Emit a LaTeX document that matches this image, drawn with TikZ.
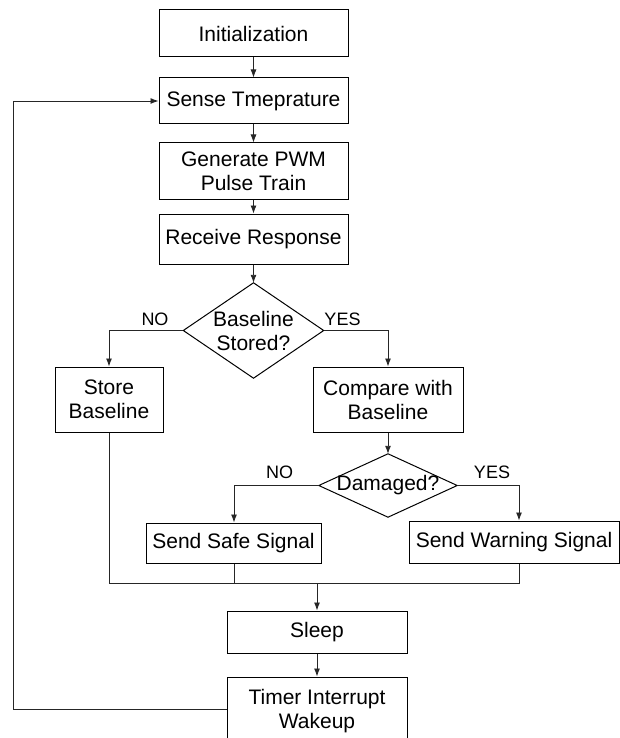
\documentclass[tikz,border=0pt]{standalone}
\usepackage{fontspec}
\setmainfont{Liberation Sans}
\usetikzlibrary{arrows.meta}

\tikzset{
  stepbox/.style={draw=black, line width=1pt, rectangle, inner sep=0pt,
    align=center, font=\fontsize{21}{24}\selectfont},
  % decision: an undrawn frame whose side midpoints are the diamond's corners
  choice/.style={rectangle, inner sep=0pt, align=center,
    font=\fontsize{21}{24}\selectfont},
  rhomb/.style={draw=black, line width=1pt, line join=miter},
  branch/.style={font=\fontsize{18}{20}\selectfont, inner sep=0pt},
  link/.style={draw=black!85, line width=0.9pt},
  flow/.style={link, -{Latex[length=8pt,width=6pt]}}
}

\begin{document}
\begin{tikzpicture}[x=1pt,y=-1pt]
  \useasboundingbox (0,0) rectangle (620,738);
  \clip (0,0) rectangle (620,738);

  % main column
  \node[stepbox, minimum width=189pt, minimum height=47pt] (init)   at (253.5,33.5) {Initialization};
  \node[stepbox, minimum width=189pt, minimum height=46pt] (sense)  at (253.5,101)  {Sense Tmeprature};
  \node[stepbox, minimum width=189pt, minimum height=56pt] (gen)    at (253.5,171)  {Generate PWM\\Pulse Train};
  \node[stepbox, minimum width=189pt, minimum height=50pt] (recv)   at (253.5,239)  {Receive Response};
  \node[choice,  minimum width=140pt, minimum height=95pt] (stored) at (253.5,330.5) {Baseline\\Stored?};
  \draw[rhomb] (stored.north) -- (stored.east) -- (stored.south) -- (stored.west) -- cycle;

  % branches
  \node[stepbox, minimum width=108pt, minimum height=65pt] (store)   at (109,399.5) {Store\\Baseline};
  \node[stepbox, minimum width=150pt, minimum height=65pt] (compare) at (388,399.5) {Compare with\\Baseline};
  \node[choice,  minimum width=138pt, minimum height=63pt] (damaged) at (388,485.5) {Damaged?};
  \draw[rhomb] (damaged.north) -- (damaged.east) -- (damaged.south) -- (damaged.west) -- cycle;
  \node[stepbox, minimum width=175pt, minimum height=40pt] (safe)    at (233.5,543) {Send Safe Signal};
  \node[stepbox, minimum width=210pt, minimum height=42pt] (warn)    at (514,542)   {Send Warning Signal};

  % lower column
  \node[stepbox, minimum width=180pt, minimum height=42pt] (sleep) at (317,632) {Sleep};
  \node[stepbox, minimum width=180pt, minimum height=68pt] (timer) at (317,711) {Timer Interrupt\\Wakeup};

  % branch labels
  \node[branch] (no1)  at (155,319)   {NO};
  \node[branch] (yes1) at (342.5,319) {YES};
  \node[branch] (no2)  at (279.5,472) {NO};
  \node[branch] (yes2) at (492,472)   {YES};

  % helper points
  \coordinate (noL)   at (109,330.5);
  \coordinate (yesL)  at (388,330.5);
  \coordinate (noD)   at (234,485.5);
  \coordinate (yesD)  at (519,485.5);
  \coordinate (merge) at (317,583);
  \coordinate (loopB) at (13,709);
  \coordinate (loopT) at (13,101);

  % straight flow
  \draw[flow] (init) -- (sense);
  \draw[flow] (sense) -- (gen);
  \draw[flow] (gen) -- (recv);
  \draw[flow] (recv.south) -- (stored.north);
  \draw[flow] (compare.south) -- (damaged.north);

  % first decision
  \draw[flow] (stored.west) -- (noL) -- (store.north);
  \draw[flow] (stored.east) -- (yesL) -- (compare.north);

  % second decision
  \draw[flow] (damaged.west) -- (noD) -- (noD |- safe.north);
  \draw[flow] (damaged.east) -- (yesD) -- (yesD |- warn.north);

  % merge into sleep
  \draw[link] (store.south) |- (merge);
  \draw[link] (noD |- safe.south) |- (merge);
  \draw[link] (yesD |- warn.south) |- (merge);
  \draw[flow] (merge) -- (sleep.north);
  \draw[flow] (sleep) -- (timer);

  % loop back to sensing
  \draw[flow] (loopB -| timer.west) -- (loopB) -- (loopT) -- (sense.west);
\end{tikzpicture}
\end{document}
